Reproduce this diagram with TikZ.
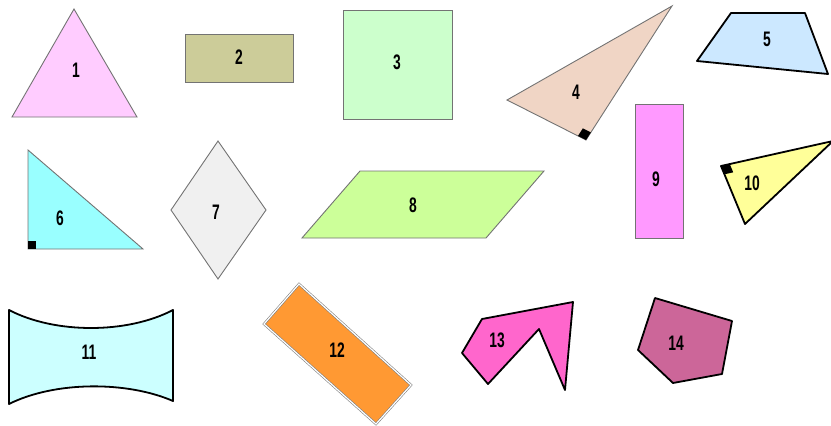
\documentclass[tikz,border=0pt]{standalone}
\usepackage{fontspec}
\newfontfamily\numfont{Liberation Sans}
\usetikzlibrary{calc}
\newcommand{\shapenum}[1]{\scalebox{0.66}[1]{\numfont\bfseries #1}}
\definecolor{triPink}{HTML}{FFCCFF}
\definecolor{rectOlive}{HTML}{CCCC99}
\definecolor{sqGreen}{HTML}{CCFFCC}
\definecolor{triPeach}{HTML}{F0D5C5}
\definecolor{trapBlue}{HTML}{CCE8FF}
\definecolor{triCyan}{HTML}{99FFFF}
\definecolor{rhomGrey}{HTML}{F0F0F0}
\definecolor{paraLime}{HTML}{CCFF99}
\definecolor{rectMagenta}{HTML}{FF99FF}
\definecolor{triYellow}{HTML}{FFFF99}
\definecolor{bowAqua}{HTML}{CCFFFF}
\definecolor{rectOrange}{HTML}{FF9933}
\definecolor{polyPink}{HTML}{FF66CC}
\definecolor{polyMauve}{HTML}{CC6699}
\begin{document}
\begin{tikzpicture}[
    x=1pt, y=-1pt,
    thinbdr/.style={draw=black!55, line width=0.9pt, line join=miter},
    thickbdr/.style={draw=black, line width=1.8pt, line join=round},
    rightmark/.style={fill=black},
    numlbl/.style={inner sep=0pt, font=\fontsize{21}{22}\selectfont}
]
\useasboundingbox (0,0) rectangle (831,426);

% top row
\draw[thinbdr, fill=triPink] (74,9) -- (137,117) -- (12,117) -- cycle;
\node[numlbl] (l1) at (76,70) {\shapenum{1}};

\draw[thinbdr, fill=rectOlive] (185,34) rectangle (293,82);
\node[numlbl] (l2) at (239,57) {\shapenum{2}};

\draw[thinbdr, fill=sqGreen] (343,10) rectangle (452,119);
\node[numlbl] (l3) at (397,62) {\shapenum{3}};

\coordinate (q4a) at (507,100);
\coordinate (q4b) at (586,140);
\coordinate (q4c) at (672,6);
\draw[thinbdr, fill=triPeach] (q4a) -- (q4b) -- (q4c) -- cycle;
\fill[rightmark] (q4b) -- ($(q4b)!9pt!(q4a)$) -- ($($(q4b)!9pt!(q4a)$)+($(q4b)!9pt!(q4c)$)-(q4b)$) -- ($(q4b)!9pt!(q4c)$) -- cycle;
\node[numlbl] (l4) at (576,92) {\shapenum{4}};

\draw[thickbdr, fill=trapBlue] (697,61) -- (731,13) -- (805,13) -- (828,74) -- cycle;
\node[numlbl] (l5) at (767,39) {\shapenum{5}};

% middle row
\draw[thinbdr, fill=triCyan] (28,150) -- (143,249) -- (28,249) -- cycle;
\fill[rightmark] (28,241) rectangle (36,249);
\node[numlbl] (l6) at (60,218) {\shapenum{6}};

\draw[thinbdr, fill=rhomGrey] (218,141) -- (266,210) -- (218,279) -- (171,210) -- cycle;
\node[numlbl] (l7) at (216,212) {\shapenum{7}};

\draw[thinbdr, fill=paraLime] (360,171) -- (544,171) -- (486,238) -- (302,238) -- cycle;
\node[numlbl] (l8) at (413,205) {\shapenum{8}};

\draw[thinbdr, fill=rectMagenta] (635,104) rectangle (683,238);
\node[numlbl] (l9) at (656,179) {\shapenum{9}};

\coordinate (q10a) at (721,166);
\coordinate (q10b) at (833,141);
\coordinate (q10c) at (745,224);
\draw[thickbdr, fill=triYellow] (q10a) -- (q10b) -- (q10c) -- cycle;
\fill[rightmark] (q10a) -- ($(q10a)!9pt!(q10b)$) -- ($($(q10a)!9pt!(q10b)$)+($(q10a)!9pt!(q10c)$)-(q10a)$) -- ($(q10a)!9pt!(q10c)$) -- cycle;
\node[numlbl] (l10) at (752,183) {\shapenum{10}};

% bottom row
\draw[thickbdr, fill=bowAqua] (9,310) .. controls (55,334) and (127,334) .. (173,310)
    -- (173,401) .. controls (127,381) and (55,381) .. (9,404) -- cycle;
\node[numlbl] (l11) at (89,352) {\shapenum{11}};

\draw[draw=black!50, line width=0.6pt, double=white, double distance=1.2pt, fill=rectOrange]
    (299,284) -- (411,385) -- (376,424) -- (264,324) -- cycle;
\node[numlbl] (l12) at (337,350) {\shapenum{12}};

\draw[thickbdr, fill=polyPink] (482,319) -- (573,302) -- (565,390) -- (539,329) -- (488,384) -- (462,353) -- cycle;
\node[numlbl] (l13) at (497,340) {\shapenum{13}};

\draw[thickbdr, fill=polyMauve] (655,298) -- (732,321) -- (722,374) -- (673,383) -- (638,350) -- cycle;
\node[numlbl] (l14) at (676,343) {\shapenum{14}};
\end{tikzpicture}
\end{document}
